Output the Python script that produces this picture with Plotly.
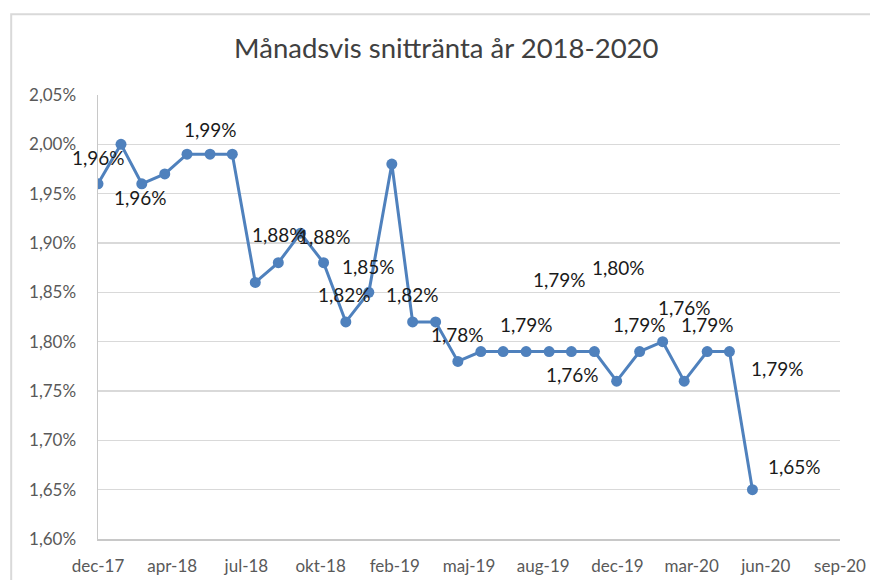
import pandas as pd
import plotly.graph_objects as go

# ---- data ----
months = pd.date_range("2017-12-31", "2020-05-31", freq="ME").strftime("%Y-%m-%d").tolist()
rates = [1.96, 2.00, 1.96, 1.97, 1.99, 1.99, 1.99, 1.86, 1.88, 1.91,
         1.88, 1.82, 1.85, 1.98, 1.82, 1.82, 1.78, 1.79, 1.79, 1.79,
         1.79, 1.79, 1.79, 1.76, 1.79, 1.80, 1.76, 1.79, 1.79, 1.65]
tick_labels = ["dec-17", "apr-18", "jul-18", "okt-18", "feb-19", "maj-19",
               "aug-19", "dec-19", "mar-20", "jun-20", "sep-20"]
title_text = "Månadsvis snittränta år 2018-2020"

# labelled points (index into data) with label offsets in px (style)
label_idx = [0, 2, 5, 8, 10, 11, 12, 14, 16, 19, 20, 23, 24, 25, 26, 27, 28, 29]
label_dx = [0, -1, 0, 0, 1, -1, 0, 0, 0, 0, 10, -44, 0, -44, 0, 0, 48, 42]
label_dy = [26, -14, 25, 28, 26, 27, 26, 27, 27, 27, 72, 7, 27, 74, 74, 27, -17, 23]

start = pd.Timestamp(months[0])
tickvals = [(start + pd.Timedelta(days=100 * k)).strftime("%Y-%m-%d") for k in range(len(tick_labels))]
x_end = tickvals[-1]

FONT = "Lato"
fig = go.Figure()
fig.add_trace(go.Scatter(
    x=months, y=rates, mode="lines+markers",
    line=dict(color="#4F81BD", width=3),
    marker=dict(color="#4F81BD", size=11),
    hoverinfo="skip", showlegend=False,
))

for i, dx, dy in zip(label_idx, label_dx, label_dy):
    fig.add_annotation(
        x=months[i], y=rates[i],
        text=f"{rates[i]:.2f}%".replace(".", ","),
        showarrow=False, xshift=dx, yshift=dy,
        font=dict(family=FONT, size=19, color="#1a1a1a"),
    )

# outer chart frame
fig.add_shape(type="rect", xref="paper", yref="paper",
              x0=-0.117, x1=1.2, y0=-0.3, y1=1.182,
              line=dict(color="#d9d9d9", width=2), layer="below")

fig.update_layout(
    width=870, height=580,
    margin=dict(l=98, r=30, t=95, b=41, autoexpand=False),
    paper_bgcolor="white", plot_bgcolor="white",
    separators=",.",
    title=dict(text=title_text, x=0.513, xanchor="center", y=0.917, yanchor="middle",
               font=dict(family=FONT, size=27.5, color="#404040")),
    xaxis=dict(
        type="date", range=[months[0], x_end], automargin=False,
        tickmode="array", tickvals=tickvals, ticktext=tick_labels,
        showgrid=False, showline=True, linecolor="#c8c8c8", linewidth=1.5,
        ticks="", ticklabelstandoff=11,
        tickfont=dict(family=FONT, size=17, color="#595959"),
        zeroline=False,
    ),
    yaxis=dict(
        range=[1.60, 2.05], dtick=0.05, tick0=1.60, automargin=False,
        tickformat=".2f", ticksuffix="%",
        showgrid=True, gridcolor="#d9d9d9", gridwidth=1.5,
        showline=True, linecolor="#c8c8c8", linewidth=1.5,
        ticks="", ticklabelstandoff=17,
        tickfont=dict(family=FONT, size=17, color="#595959"),
        zeroline=False,
    ),
)

fig.write_html(
    "out.html",
    config={"displayModeBar": False, "staticPlot": True},
    post_script="document.documentElement.style.overflow='hidden';"
                "document.body.style.margin='0';document.body.style.overflow='hidden';",
)
